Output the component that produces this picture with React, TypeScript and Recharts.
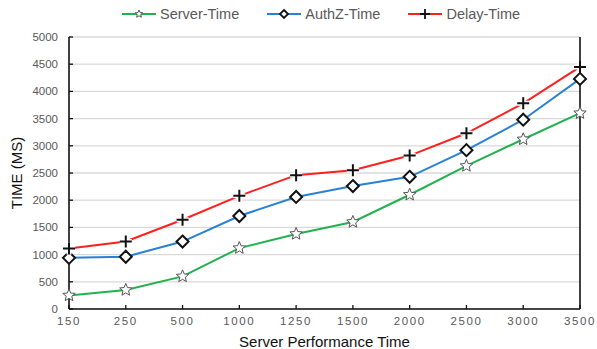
import { LineChart, Line, XAxis, YAxis, CartesianGrid, ReferenceLine, Label } from 'recharts';

const categories = ['150', '250', '500', '1000', '1250', '1500', '2000', '2500', '3000', '3500'];
const serverTime = [250, 350, 600, 1120, 1380, 1600, 2100, 2630, 3120, 3600];
const authzTime = [940, 960, 1240, 1710, 2060, 2260, 2430, 2920, 3480, 4230];
const delayTime = [1110, 1240, 1640, 2080, 2460, 2550, 2820, 3230, 3780, 4450];
const yTicks = [0, 500, 1000, 1500, 2000, 2500, 3000, 3500, 4000, 4500, 5000];

const data = categories.map((c, i) => ({
  x: c,
  server: serverTime[i],
  authz: authzTime[i],
  delay: delayTime[i],
}));

const FONT = '"Liberation Sans", Arial, sans-serif';
const GREEN = '#21b24f';
const BLUE = '#2a80d2';
const RED = '#ff1f1f';

function starPath(cx: number, cy: number, r: number) {
  const pts: string[] = [];
  for (let i = 0; i < 10; i++) {
    const rad = i % 2 === 0 ? r : r * 0.45;
    const a = (Math.PI / 5) * i - Math.PI / 2;
    pts.push(`${cx + rad * Math.cos(a)},${cy + rad * Math.sin(a)}`);
  }
  return `M${pts.join('L')}Z`;
}

const StarDot = (props: any) => {
  const { cx, cy } = props;
  if (cx == null || cy == null) return null;
  return <path d={starPath(cx, cy, 6.5)} fill="#fff" stroke="#555" strokeWidth={1} />;
};

const DiamondDot = (props: any) => {
  const { cx, cy } = props;
  if (cx == null || cy == null) return null;
  const s = 6;
  return (
    <path
      d={`M${cx},${cy - s}L${cx + s},${cy}L${cx},${cy + s}L${cx - s},${cy}Z`}
      fill="#fff"
      stroke="#111"
      strokeWidth={2}
    />
  );
};

const PlusDot = (props: any) => {
  const { cx, cy } = props;
  if (cx == null || cy == null) return null;
  const s = 6;
  const d = `M${cx - s},${cy}L${cx + s},${cy}M${cx},${cy - s}L${cx},${cy + s}`;
  return (
    <g>
      <path d={d} stroke="#fff" strokeWidth={5} />
      <path d={d} stroke="#111" strokeWidth={2} />
    </g>
  );
};

function LegendItem({ color, label, marker }: { color: string; label: string; marker: string }) {
  return (
    <div style={{ display: 'flex', alignItems: 'center', marginRight: 28 }}>
      <svg width={34} height={14}>
        <line x1={0} y1={7} x2={34} y2={7} stroke={color} strokeWidth={2} />
        {marker === 'star' && <path d={starPath(17, 7, 4)} fill="#fff" stroke="#555" strokeWidth={1} />}
        {marker === 'diamond' && (
          <path d="M17,3L21,7L17,11L13,7Z" fill="#fff" stroke="#111" strokeWidth={1.8} />
        )}
        {marker === 'plus' && (
          <g>
            <path d="M12,7L22,7M17,2L17,12" stroke="#fff" strokeWidth={4} />
            <path d="M12,7L22,7M17,2L17,12" stroke="#111" strokeWidth={1.8} />
          </g>
        )}
      </svg>
      <span style={{ marginLeft: 4, fontSize: 14.5, color: '#595959' }}>{label}</span>
    </div>
  );
}

export default function App() {
  return (
    <div style={{ position: 'absolute', left: 0, top: 0, width: 597, height: 349, background: '#fff', fontFamily: FONT }}>
      <div style={{ position: 'absolute', left: 122, top: 6, display: 'flex' }}>
        <LegendItem color={GREEN} label="Server-Time" marker="star" />
        <LegendItem color={BLUE} label="AuthZ-Time" marker="diamond" />
        <LegendItem color={RED} label="Delay-Time" marker="plus" />
      </div>
      <LineChart
        width={597}
        height={349}
        data={data}
        margin={{ top: 37, right: 17, left: 0, bottom: 0 }}
        style={{ fontFamily: FONT }}
      >
        <CartesianGrid vertical={false} stroke="#d9d9d9" strokeWidth={1.3} />
        <XAxis
          dataKey="x"
          height={40}
          axisLine={{ stroke: '#111', strokeWidth: 1.6 }}
          tickLine={{ stroke: '#111', strokeWidth: 1.3 }}
          tickSize={-4}
          tickMargin={12}
          interval={0}
          tick={{ fill: '#595959', fontSize: 11.5, letterSpacing: 1.6 }}
        >
          <Label value="Server Performance Time" position="insideBottom" offset={2} style={{ fill: '#111', fontSize: 15 }} />
        </XAxis>
        <YAxis
          width={69}
          domain={[0, 5000]}
          ticks={yTicks}
          interval={0}
          axisLine={{ stroke: '#111', strokeWidth: 1.6 }}
          tickLine={{ stroke: '#111', strokeWidth: 1.3 }}
          tickSize={-4}
          tickMargin={15}
          tick={{ fill: '#595959', fontSize: 11.5 }}
        >
          <Label
            value="TIME (MS)"
            angle={-90}
            position="insideLeft"
            offset={17}
            style={{ fill: '#111', fontSize: 15, textAnchor: 'middle' }}
          />
        </YAxis>
        <ReferenceLine x="3500" stroke="#111" strokeWidth={1.6} />
        <Line dataKey="server" stroke={GREEN} strokeWidth={2} dot={<StarDot />} isAnimationActive={false} />
        <Line dataKey="authz" stroke={BLUE} strokeWidth={2} dot={<DiamondDot />} isAnimationActive={false} />
        <Line dataKey="delay" stroke={RED} strokeWidth={2} dot={<PlusDot />} isAnimationActive={false} />
      </LineChart>
    </div>
  );
}
